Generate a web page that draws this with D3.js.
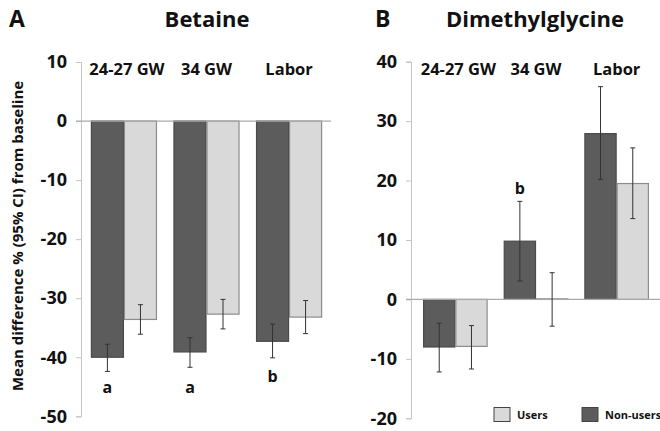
<!DOCTYPE html>
<html><head><meta charset="utf-8">
<script src="https://cdn.jsdelivr.net/npm/d3@7/dist/d3.min.js"></script>
<style>
body{margin:0;background:#fff;}
svg{display:block;font-family:"Open Sans",sans-serif;font-weight:bold;}
</style></head>
<body><svg id="c" width="660" height="431"></svg>
<script>
const categories = ["24-27 GW", "34 GW", "Labor"];
const seriesNames = ["Non-users", "Users"];
const yTicksA = [10, 0, -10, -20, -30, -40, -50];
const yTicksB = [40, 30, 20, 10, 0, -10, -20];

const betaineNonUsers     = [-40.0, -39.1, -37.3];
const betaineNonUsersLow  = [-42.4, -41.7, -40.1];
const betaineNonUsersHigh = [-37.8, -36.7, -34.4];
const betaineUsers        = [-33.6, -32.7, -33.2];
const betaineUsersLow     = [-36.1, -35.2, -36.0];
const betaineUsersHigh    = [-31.1, -30.2, -30.4];
const betaineLetters      = ["a", "a", "b"];
const betaineLetterAt     = [-46.0, -46.0, -44.2];

const dmgNonUsers     = [-8.0, 9.8, 27.9];
const dmgNonUsersLow  = [-12.2, 3.1, 20.2];
const dmgNonUsersHigh = [-4.0, 16.5, 35.8];
const dmgUsers        = [-7.9, 0.1, 19.5];
const dmgUsersLow     = [-11.7, -4.5, 13.6];
const dmgUsersHigh    = [-4.4, 4.5, 25.5];
const dmgLetters      = ["", "b", ""];
const dmgLetterAt     = [0, 17.8, 0];

const colors = {"Non-users": "#5c5c5c", "Users": "#d9d9d9"};
const strokes = {"Non-users": "#4a4a4a", "Users": "#8c8c8c"};

const svg = d3.select("#c");

function panel(opt) {
  const g = svg.append("g");
  const x0 = d3.scaleBand().domain(categories).range(opt.xr).paddingInner(0.2).paddingOuter(opt.po);
  const x1 = d3.scaleBand().domain(seriesNames).range([0, x0.bandwidth()]);
  const y = d3.scaleLinear().domain(opt.yd).range(opt.yr);
  const axX = opt.xr[0];

  const axis = d3.axisLeft(y).tickValues(opt.ticks).tickSize(5).tickPadding(9).tickFormat(d => String(d));
  const ag = g.append("g").attr("transform", `translate(${axX},0)`).call(axis);
  ag.select(".domain").attr("stroke", "#c4c4c4");
  ag.selectAll(".tick line").attr("stroke", "#c4c4c4");
  ag.selectAll(".tick text").attr("fill", "#111").style("font-size", "18px").style("font-family", "'Open Sans',sans-serif").style("font-weight", "bold");

  const rows = [];
  categories.forEach((c, i) => {
    rows.push({c, s: "Non-users", v: opt.nu[i], lo: opt.nuLo[i], hi: opt.nuHi[i]});
    rows.push({c, s: "Users", v: opt.u[i], lo: opt.uLo[i], hi: opt.uHi[i]});
  });

  g.selectAll("rect.bar").data(rows).join("rect").attr("class", "bar")
    .attr("x", d => x0(d.c) + x1(d.s) + 0.5)
    .attr("width", x1.bandwidth() - 1)
    .attr("y", d => Math.min(y(d.v), y(0)))
    .attr("height", d => Math.abs(y(d.v) - y(0)))
    .attr("fill", d => colors[d.s])
    .attr("stroke", d => strokes[d.s]).attr("stroke-width", 1.2);

  g.append("line").attr("x1", axX - 5).attr("x2", opt.zeroEnd).attr("y1", y(0)).attr("y2", y(0))
    .attr("stroke", "#aaaaaa").attr("stroke-width", 1.3);

  const eb = g.selectAll("g.eb").data(rows).join("g").attr("class", "eb")
    .attr("transform", d => `translate(${x0(d.c) + x1(d.s) + x1.bandwidth() / 2},0)`);
  eb.append("line").attr("y1", d => y(d.lo)).attr("y2", d => y(d.hi)).attr("stroke", "#333").attr("stroke-width", 1);
  eb.append("line").attr("x1", -2.5).attr("x2", 2.5).attr("y1", d => y(d.lo)).attr("y2", d => y(d.lo)).attr("stroke", "#333");
  eb.append("line").attr("x1", -2.5).attr("x2", 2.5).attr("y1", d => y(d.hi)).attr("y2", d => y(d.hi)).attr("stroke", "#333");

  g.selectAll("text.cat").data(categories).join("text").attr("class", "cat")
    .attr("x", (d, i) => x0(d) + x0.bandwidth() / 2 + (i === 0 ? 3 : 0)).attr("y", 68)
    .attr("text-anchor", "middle").attr("dominant-baseline", "central")
    .style("font-size", "16.5px").attr("fill", "#111").text(d => d);

  g.selectAll("text.sig").data(categories).join("text").attr("class", "sig")
    .attr("x", d => x0(d) + x1("Non-users") + x1.bandwidth() / 2)
    .attr("y", (d, i) => y(opt.letterAt[i]))
    .attr("text-anchor", "middle").style("font-size", "16px").attr("fill", "#111")
    .text((d, i) => opt.letters[i]);

  g.append("text").attr("x", opt.titleX).attr("y", 27).attr("text-anchor", "middle")
    .style("font-size", "22px").attr("fill", "#111").text(opt.title);
  g.append("text").attr("x", opt.letterX).attr("y", 27)
    .style("font-size", "23px").attr("fill", "#111").text(opt.panel);
  return {x0, y};
}

panel({xr: [81, 332], po: 0.12, yd: [-50, 10], yr: [416.3, 62], ticks: yTicksA,
  nu: betaineNonUsers, nuLo: betaineNonUsersLow, nuHi: betaineNonUsersHigh,
  u: betaineUsers, uLo: betaineUsersLow, uHi: betaineUsersHigh,
  letters: betaineLetters, letterAt: betaineLetterAt, zeroEnd: 331,
  title: "Betaine", titleX: 207, panel: "A", letterX: 9});

panel({xr: [411, 661], po: 0.15, yd: [-20, 40], yr: [418.3, 61.7], ticks: yTicksB,
  nu: dmgNonUsers, nuLo: dmgNonUsersLow, nuHi: dmgNonUsersHigh,
  u: dmgUsers, uLo: dmgUsersLow, uHi: dmgUsersHigh,
  letters: dmgLetters, letterAt: dmgLetterAt, zeroEnd: 660,
  title: "Dimethylglycine", titleX: 535, panel: "B", letterX: 375});

svg.append("text").attr("transform", "translate(17,236) rotate(-90)")
  .attr("text-anchor", "middle").attr("dominant-baseline", "central")
  .style("font-size", "15px").attr("fill", "#111")
  .text("Mean difference % (95% CI) from baseline");

const legendItems = [{s: "Users", x: 494}, {s: "Non-users", x: 582}];
const lg = svg.selectAll("g.lg").data(legendItems).join("g").attr("class", "lg")
  .attr("transform", d => `translate(${d.x},407.5)`);
lg.append("rect").attr("width", 16).attr("height", 14)
  .attr("fill", d => colors[d.s]).attr("stroke", "#444").attr("stroke-width", 1);
lg.append("text").attr("x", 23).attr("y", 7).attr("dominant-baseline", "central")
  .style("font-size", "11px").attr("fill", "#111").text(d => d.s);
</script></body></html>
